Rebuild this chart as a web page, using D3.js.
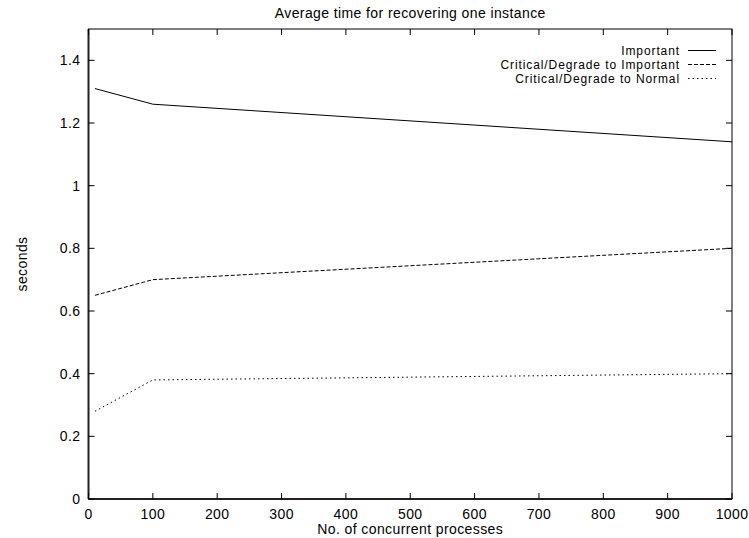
<!DOCTYPE html>
<html>
<head>
<meta charset="utf-8">
<script src="https://cdn.jsdelivr.net/npm/d3@7"></script>
<style>
  body { margin: 0; background: #fff; }
  text { font-family: "Liberation Sans", Arial, sans-serif; font-size: 14px; letter-spacing: 0.4px; fill: #000; }
  text.legend { font-size: 12px; letter-spacing: 0.9px; }
</style>
</head>
<body>
<div id="chart"></div>
<script>
// data
var processes = [10, 100, 1000];
var important = [1.31, 1.26, 1.14];
var critToImportant = [0.65, 0.70, 0.80];
var critToNormal = [0.28, 0.38, 0.40];
var seriesNames = ["Important", "Critical/Degrade to Important", "Critical/Degrade to Normal"];
var xTicks = [0, 100, 200, 300, 400, 500, 600, 700, 800, 900, 1000];
var yTicks = [0, 0.2, 0.4, 0.6, 0.8, 1, 1.2, 1.4];

var width = 749, height = 538;
var margin = {top: 29, right: 17, bottom: 39, left: 88.5};

var svg = d3.select("#chart").append("svg")
    .attr("width", width)
    .attr("height", height);

var x = d3.scaleLinear().domain([0, 1000]).range([margin.left, width - margin.right]);
var y = d3.scaleLinear().domain([0, 1.5]).range([height - margin.bottom, margin.top]);

var tick = 6;

// border
svg.append("rect")
    .attr("x", x(0)).attr("y", y(1.5))
    .attr("width", x(1000) - x(0)).attr("height", y(0) - y(1.5))
    .attr("fill", "none").attr("stroke", "#000").attr("stroke-width", 1);
// left and bottom look heavier in the original
svg.append("line").attr("x1", x(0)).attr("x2", x(0)).attr("y1", y(0)).attr("y2", y(1.5))
    .attr("stroke", "#222").attr("stroke-width", 2);
svg.append("line").attr("x1", x(0)).attr("x2", x(1000)).attr("y1", y(0)).attr("y2", y(0))
    .attr("stroke", "#222").attr("stroke-width", 2);

// ticks (inward, mirrored)
var tg = svg.append("g").attr("stroke", "#000").attr("stroke-width", 1);
xTicks.forEach(function (t) {
    tg.append("line").attr("x1", x(t)).attr("x2", x(t)).attr("y1", y(0)).attr("y2", y(0) - tick);
    tg.append("line").attr("x1", x(t)).attr("x2", x(t)).attr("y1", y(1.5)).attr("y2", y(1.5) + tick);
});
yTicks.forEach(function (t) {
    tg.append("line").attr("x1", x(0)).attr("x2", x(0) + tick).attr("y1", y(t)).attr("y2", y(t));
    tg.append("line").attr("x1", x(1000)).attr("x2", x(1000) - tick).attr("y1", y(t)).attr("y2", y(t));
});

// tick labels
svg.append("g").selectAll("text").data(xTicks).enter().append("text")
    .attr("x", function (d) { return x(d); })
    .attr("y", y(0) + 15)
    .attr("dy", "0.35em")
    .attr("text-anchor", "middle")
    .text(function (d) { return d; });

svg.append("g").selectAll("text").data(yTicks).enter().append("text")
    .attr("x", x(0) - 8)
    .attr("y", function (d) { return y(d); })
    .attr("dy", "0.35em")
    .attr("text-anchor", "end")
    .text(function (d) { return d; });

// titles
svg.append("text")
    .attr("x", (x(0) + x(1000)) / 2).attr("y", 13).attr("dy", "0.35em")
    .attr("text-anchor", "middle")
    .text("Average time for recovering one instance");

svg.append("text")
    .attr("x", (x(0) + x(1000)) / 2).attr("y", 529).attr("dy", "0.35em")
    .attr("text-anchor", "middle")
    .text("No. of concurrent processes");

svg.append("text")
    .attr("transform", "translate(22," + ((y(0) + y(1.5)) / 2) + ") rotate(-90)")
    .attr("dy", "0.35em")
    .attr("text-anchor", "middle")
    .text("seconds");

// lines
var dashes = [null, "4,2", "1.5,3"];
var series = [important, critToImportant, critToNormal];

var line = d3.line()
    .x(function (d, i) { return x(processes[i]); })
    .y(function (d) { return y(d); });

series.forEach(function (s, i) {
    svg.append("path")
        .datum(s)
        .attr("fill", "none")
        .attr("stroke", "#000")
        .attr("stroke-width", 1)
        .attr("stroke-dasharray", dashes[i])
        .attr("d", line);
});

// legend
var legendY = [50.5, 64.5, 78.5];
seriesNames.forEach(function (name, i) {
    svg.append("text")
        .attr("class", "legend")
        .attr("x", 680).attr("y", legendY[i]).attr("dy", "0.35em")
        .attr("text-anchor", "end")
        .text(name);
    svg.append("line")
        .attr("x1", 688).attr("x2", 716)
        .attr("y1", legendY[i]).attr("y2", legendY[i])
        .attr("stroke", "#000").attr("stroke-width", 1)
        .attr("stroke-dasharray", dashes[i]);
});
</script>
</body>
</html>
